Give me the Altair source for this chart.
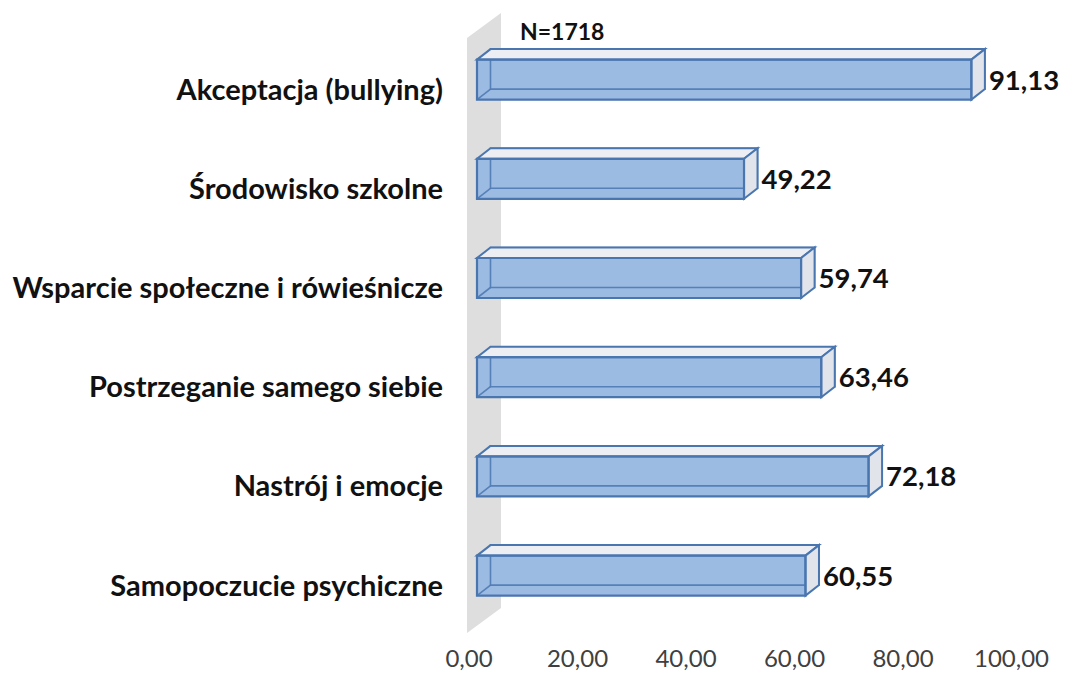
import altair as alt
import pandas as pd

# ---- data ----
categories = [
    "Akceptacja (bullying)",
    "Środowisko szkolne",
    "Wsparcie społeczne i rówieśnicze",
    "Postrzeganie samego siebie",
    "Nastrój i emocje",
    "Samopoczucie psychiczne",
]
values = [91.13, 49.22, 59.74, 63.46, 72.18, 60.55]
x_ticks = [0, 20, 40, 60, 80, 100]
sample_note = ["N=1718"]

# ---- geometry (pixels per unit, 3D depth) ----
PX_X = 5.425          # pixels per value unit
PX_Y = 99.2           # pixels per category step
W = 100 * PX_X
H = 6 * PX_Y
OFF = 8 / PX_X        # front face starts slightly right of axis zero
DX = 13.5 / PX_X      # depth, horizontal
DY = 10.5 / PX_Y      # depth, vertical (upwards)
HH = 20 / PX_Y        # half thickness of the bar front face
WALL_X0 = -2 / PX_X
WALL_W = 34 / PX_X
WALL_Y0 = 8 / PX_Y
WALL_Y1 = 603 / PX_Y
WALL_S = 25 / PX_Y
PAD_L, PAD_T = 461, 22

FONT = "Lato"
EDGE = "#4a76b0"
FRONT = "#9cbbe2"
TOP = "#eceef3"
SIDE = "#e1e5eb"
WALL = "#dedede"

# ---- tables built from the arrays ----
bars = pd.DataFrame({"name": categories, "v": values})
bars["yc"] = [i + 0.5 for i in range(len(categories))]
bars["x0"] = OFF
bars["x1"] = OFF + bars["v"]
bars["xb0"] = OFF + DX
bars["xb1"] = OFF + bars["v"] + DX
bars["yt"] = bars["yc"] - HH
bars["yb"] = bars["yc"] + HH
bars["ytb"] = bars["yt"] - DY
bars["ybb"] = bars["yb"] - DY
bars["lab"] = [f"{v:.2f}".replace(".", ",") for v in values]

top_rows = []
side_rows = []
for r in bars.to_dict("records"):
    top_rows.append({"name": r["name"], "y": r["yt"], "x": r["x0"], "x2": r["x1"]})
    top_rows.append({"name": r["name"], "y": r["ytb"], "x": r["xb0"], "x2": r["xb1"]})
    side_rows.append({"name": r["name"], "x": r["x1"], "y": r["yt"], "y2": r["yb"]})
    side_rows.append({"name": r["name"], "x": r["xb1"], "y": r["ytb"], "y2": r["ybb"]})
top_df = pd.DataFrame(top_rows)
side_df = pd.DataFrame(side_rows)

wall_df = pd.DataFrame({
    "x": [WALL_X0, WALL_X0 + WALL_W],
    "y": [WALL_Y0, WALL_Y0 - WALL_S],
    "y2": [WALL_Y1, WALL_Y1 - WALL_S],
})
tick_df = pd.DataFrame({"t": x_ticks})
tick_df["lab"] = [f"{t:.2f}".replace(".", ",") for t in x_ticks]
note_df = pd.DataFrame({"note": sample_note})

xs = alt.Scale(domain=[0, 100], nice=False, zero=False)
ys = alt.Scale(domain=[0, 6], nice=False, zero=False, reverse=True)

def X(f):
    return alt.X(f, type="quantitative", scale=xs, axis=None, stack=False)

def Y(f):
    return alt.Y(f, type="quantitative", scale=ys, axis=None, stack=False)

wall = alt.Chart(wall_df).mark_area(orient="vertical", color=WALL).encode(
    x=X("x"), y=Y("y"), y2="y2"
)

front_fill = alt.Chart(bars).mark_rect(color=FRONT).encode(
    x=X("x0"), x2="x1", y=Y("yt"), y2="yb"
)

back_edges = alt.Chart(bars).mark_rect(
    fillOpacity=0, stroke=EDGE, strokeWidth=1.6, strokeOpacity=0.85
).encode(x=X("xb0"), x2="xb1", y=Y("ytb"), y2="ybb")

diag = alt.Chart(bars).mark_rule(color=EDGE, strokeWidth=1.6, opacity=0.85).encode(
    x=X("x0"), x2="xb0", y=Y("yb"), y2="ybb"
)

top_face = alt.Chart(top_df).mark_area(
    orient="horizontal", color=TOP, stroke=EDGE, strokeWidth=2, strokeJoin="miter"
).encode(y=Y("y"), x=X("x"), x2="x2", detail="name:N")

side_face = alt.Chart(side_df).mark_area(
    orient="vertical", color=SIDE, stroke=EDGE, strokeWidth=2, strokeJoin="miter"
).encode(x=X("x"), y=Y("y"), y2="y2", detail="name:N")

front_edges = alt.Chart(bars).mark_rect(
    fillOpacity=0, stroke=EDGE, strokeWidth=2.2
).encode(x=X("x0"), x2="x1", y=Y("yt"), y2="yb")

value_labels = alt.Chart(bars).mark_text(
    align="left", baseline="alphabetic", dx=4, dy=10,
    font=FONT, fontSize=27.5, fontWeight="bold", color="#111111"
).encode(x=X("xb1"), y=Y("yc"), text="lab:N")

cat_labels = alt.Chart(bars).mark_text(
    align="right", baseline="alphabetic", dy=20,
    font=FONT, fontSize=29, fontWeight="bold", color="#111111"
).encode(x=alt.value(-26), y=Y("yc"), text="name:N")

note = alt.Chart(note_df).mark_text(
    align="left", baseline="alphabetic",
    font=FONT, fontSize=23, fontWeight="bold", color="#111111"
).encode(x=alt.value(51), y=alt.value(10), text="note:N")

tick_labels = alt.Chart(tick_df).mark_text(
    align="center", baseline="alphabetic",
    font=FONT, fontSize=24, color="#404040"
).encode(x=X("t"), y=alt.value(H + 42), text="lab:N")

chart = alt.layer(
    wall, front_fill, back_edges, diag, top_face, side_face, front_edges,
    value_labels, cat_labels, note, tick_labels,
).properties(
    width=W, height=H,
    autosize=alt.AutoSizeParams(type="none"),
    padding={"left": PAD_L, "top": PAD_T, "right": 1051 - PAD_L - W,
             "bottom": 666 - PAD_T - H},
).configure_view(stroke=None)

chart.save("out.html", embed_options={"renderer": "svg", "actions": False})
